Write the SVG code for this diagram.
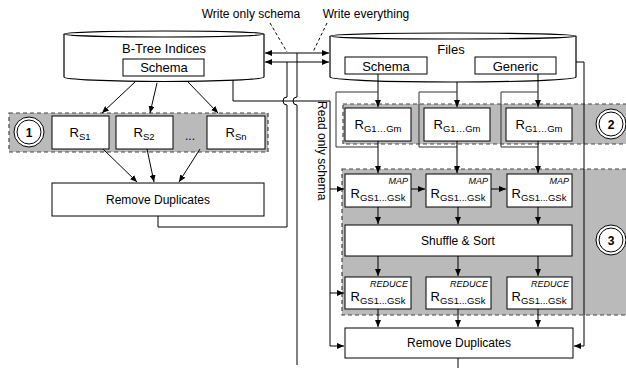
<svg xmlns="http://www.w3.org/2000/svg" width="626" height="368" viewBox="0 0 626 368">
<style>
text{font-family:"Liberation Sans",Arial,sans-serif;fill:#000}
.t{font-size:12px;text-anchor:middle}
.t13{font-size:13px;text-anchor:middle}
.r{font-size:13px;text-anchor:middle}
.sub{font-size:9.5px}
.tag{font-size:9px;font-style:italic;text-anchor:end}
.num{font-size:12px;font-weight:bold;text-anchor:middle}
.box{fill:#fff;stroke:#000;stroke-width:1}
.reg{fill:#bababa;stroke:#444;stroke-width:1.2;stroke-dasharray:4,3}
.cyl{fill:#fff;stroke:#000;stroke-width:1.2}
.c{fill:none;stroke:#000;stroke-width:1}
.g{fill:none;stroke:#333;stroke-width:1}
.d{fill:none;stroke:#000;stroke-width:1;stroke-dasharray:3,2.5}
.a{marker-end:url(#ah)}
.aa{marker-start:url(#ah);marker-end:url(#ah)}
</style>
<defs>
<marker id="ah" markerUnits="userSpaceOnUse" markerWidth="8" markerHeight="6" refX="7" refY="3" orient="auto-start-reverse">
<path d="M0,0 L7,3 L0,6 z" fill="#000"/>
</marker>
</defs>

<g id="region1">
<rect class="reg" x="9" y="113" width="259" height="39"/>
<circle cx="29" cy="132" r="15" fill="#fff" stroke="#000" stroke-width="1"/>
<circle cx="29" cy="132" r="12" fill="#fff" stroke="#000" stroke-width="1"/>
<text class="num" x="29" y="136.5">1</text>
</g>
<g id="region2">
<rect class="reg" x="343" y="104" width="295" height="40"/>
<circle cx="611" cy="124" r="15" fill="#fff" stroke="#000" stroke-width="1"/>
<circle cx="611" cy="124" r="12" fill="#fff" stroke="#000" stroke-width="1"/>
<text class="num" x="611" y="128.5">2</text>
</g>
<g id="region3">
<rect class="reg" x="342" y="169" width="296" height="146"/>
<circle cx="611" cy="240" r="15" fill="#fff" stroke="#000" stroke-width="1"/>
<circle cx="611" cy="240" r="12" fill="#fff" stroke="#000" stroke-width="1"/>
<text class="num" x="611" y="244.5">3</text>
</g>

<g id="btree">
<path class="cyl" d="M64,34 V77 A100,4.5 0 0 0 264,77 V34"/>
<ellipse class="cyl" cx="164" cy="34" rx="100" ry="3"/>
<text class="t13" x="164" y="53">B-Tree Indices</text>
<rect class="box" x="123" y="59" width="81" height="17"/>
<text class="t13" x="164" y="72">Schema</text>
</g>

<g id="files">
<path class="cyl" d="M330,36 V77 A123,5 0 0 0 576,77 V36"/>
<ellipse class="cyl" cx="453" cy="36" rx="123" ry="3"/>
<text class="t13" x="451" y="54">Files</text>
<rect class="box" x="345" y="57" width="82" height="17"/>
<text class="t13" x="386" y="70.5">Schema</text>
<rect class="box" x="475" y="57" width="81" height="17"/>
<text class="t13" x="515.5" y="70.5">Generic</text>
</g>

<g id="rs1"><rect class="box" x="52" y="116" width="57" height="33"/><text class="r" x="80" y="137">R<tspan class="sub" dy="3">S1</tspan></text></g>
<g id="rs2"><rect class="box" x="116" y="116" width="57" height="33"/><text class="r" x="144" y="137">R<tspan class="sub" dy="3">S2</tspan></text></g>
<text class="t" x="190" y="140" font-size="10">...</text>
<g id="rsn"><rect class="box" x="207" y="116" width="58" height="33"/><text class="r" x="236" y="137">R<tspan class="sub" dy="3">Sn</tspan></text></g>

<g id="rdup1"><rect class="box" x="52" y="183" width="212" height="33"/><text class="t" x="158" y="204">Remove Duplicates</text></g>

<g id="rg1"><rect class="box" x="345" y="108" width="66" height="33"/><text class="r" x="378" y="129">R<tspan class="sub" dy="3">G1…Gm</tspan></text></g>
<g id="rg2"><rect class="box" x="424" y="108" width="66" height="33"/><text class="r" x="457" y="129">R<tspan class="sub" dy="3">G1…Gm</tspan></text></g>
<g id="rg3"><rect class="box" x="506" y="108" width="66" height="33"/><text class="r" x="539" y="129">R<tspan class="sub" dy="3">G1…Gm</tspan></text></g>

<g id="map1"><rect class="box" x="345" y="174" width="66" height="33"/><text class="tag" x="408" y="184">MAP</text><text class="r" x="378" y="198">R<tspan class="sub" dy="3">GS1...GSk</tspan></text></g>
<g id="map2"><rect class="box" x="426" y="174" width="65" height="33"/><text class="tag" x="488" y="184">MAP</text><text class="r" x="458" y="198">R<tspan class="sub" dy="3">GS1...GSk</tspan></text></g>
<g id="map3"><rect class="box" x="507" y="174" width="65" height="33"/><text class="tag" x="569" y="184">MAP</text><text class="r" x="539" y="198">R<tspan class="sub" dy="3">GS1...GSk</tspan></text></g>

<g id="shuffle"><rect class="box" x="345" y="225" width="227" height="31"/><text class="t" x="458" y="245">Shuffle &amp; Sort</text></g>

<g id="red1"><rect class="box" x="345" y="277" width="66" height="32"/><text class="tag" x="408" y="287">REDUCE</text><text class="r" x="378" y="301">R<tspan class="sub" dy="3">GS1...GSk</tspan></text></g>
<g id="red2"><rect class="box" x="426" y="277" width="65" height="32"/><text class="tag" x="488" y="287">REDUCE</text><text class="r" x="458" y="301">R<tspan class="sub" dy="3">GS1...GSk</tspan></text></g>
<g id="red3"><rect class="box" x="507" y="277" width="65" height="32"/><text class="tag" x="569" y="287">REDUCE</text><text class="r" x="539" y="301">R<tspan class="sub" dy="3">GS1...GSk</tspan></text></g>

<g id="rdup2"><rect class="box" x="345" y="328" width="228" height="30"/><text class="t" x="459" y="347">Remove Duplicates</text></g>

<text class="t" x="251" y="18">Write only schema</text>
<text class="t" x="366" y="18">Write everything</text>
<text font-size="12" transform="translate(318,101) rotate(90)">Read only schema</text>

<g id="connectors">
<path class="d" d="M270,23 L287,52"/>
<path class="d" d="M327,23 L313,52"/>
<path class="c aa" d="M265,53 H329"/>
<path class="c aa" d="M265,62 H329"/>
<path class="c" d="M158,216 V227 H287 V105 A4,4 0 0 1 287,97 V62"/>
<path class="c" d="M297,53 V97 A4,4 0 0 0 297,105 V365"/>
<path class="c" d="M233,80 V101 H330 V346"/>
<path class="c a" d="M330,346 H344"/>
<path class="c a" d="M330,189 H344"/>
<path class="c a" d="M330,293 H344"/>
<path class="c a" d="M135,82 L102,113"/>
<path class="c a" d="M157,83 L150,113"/>
<path class="c a" d="M188,82 L218,113"/>
<path class="c a" d="M103,149 L137,182"/>
<path class="c a" d="M147,149 L154,182"/>
<path class="c a" d="M200,149 L179,182"/>
<path class="c a" d="M378,74 V107"/>
<path class="c a" d="M457,82 V107"/>
<path class="c a" d="M538,74 V107"/>
<path class="g" d="M378,92 H336 V147 H378"/>
<path class="g" d="M457,92 H419 V147 H457"/>
<path class="g" d="M538,92 H501 V147 H538"/>
<path class="c a" d="M378,141 V173"/>
<path class="c a" d="M457,141 V173"/>
<path class="c a" d="M538,141 V173"/>
<path class="c a" d="M411,189 H425"/>
<path class="c a" d="M491,189 H506"/>
<path class="c a" d="M378,207 V224"/>
<path class="c a" d="M458,207 V224"/>
<path class="c a" d="M538,207 V224"/>
<path class="c a" d="M378,256 V276"/>
<path class="c a" d="M458,256 V276"/>
<path class="c a" d="M538,256 V276"/>
<path class="c a" d="M378,309 V327"/>
<path class="c a" d="M458,309 V327"/>
<path class="c a" d="M538,309 V327"/>
<path class="c" d="M576,62 H584 V346"/>
<path class="c a" d="M584,346 H574"/>
<path class="c" d="M458,358 V368"/>
</g>
</svg>
